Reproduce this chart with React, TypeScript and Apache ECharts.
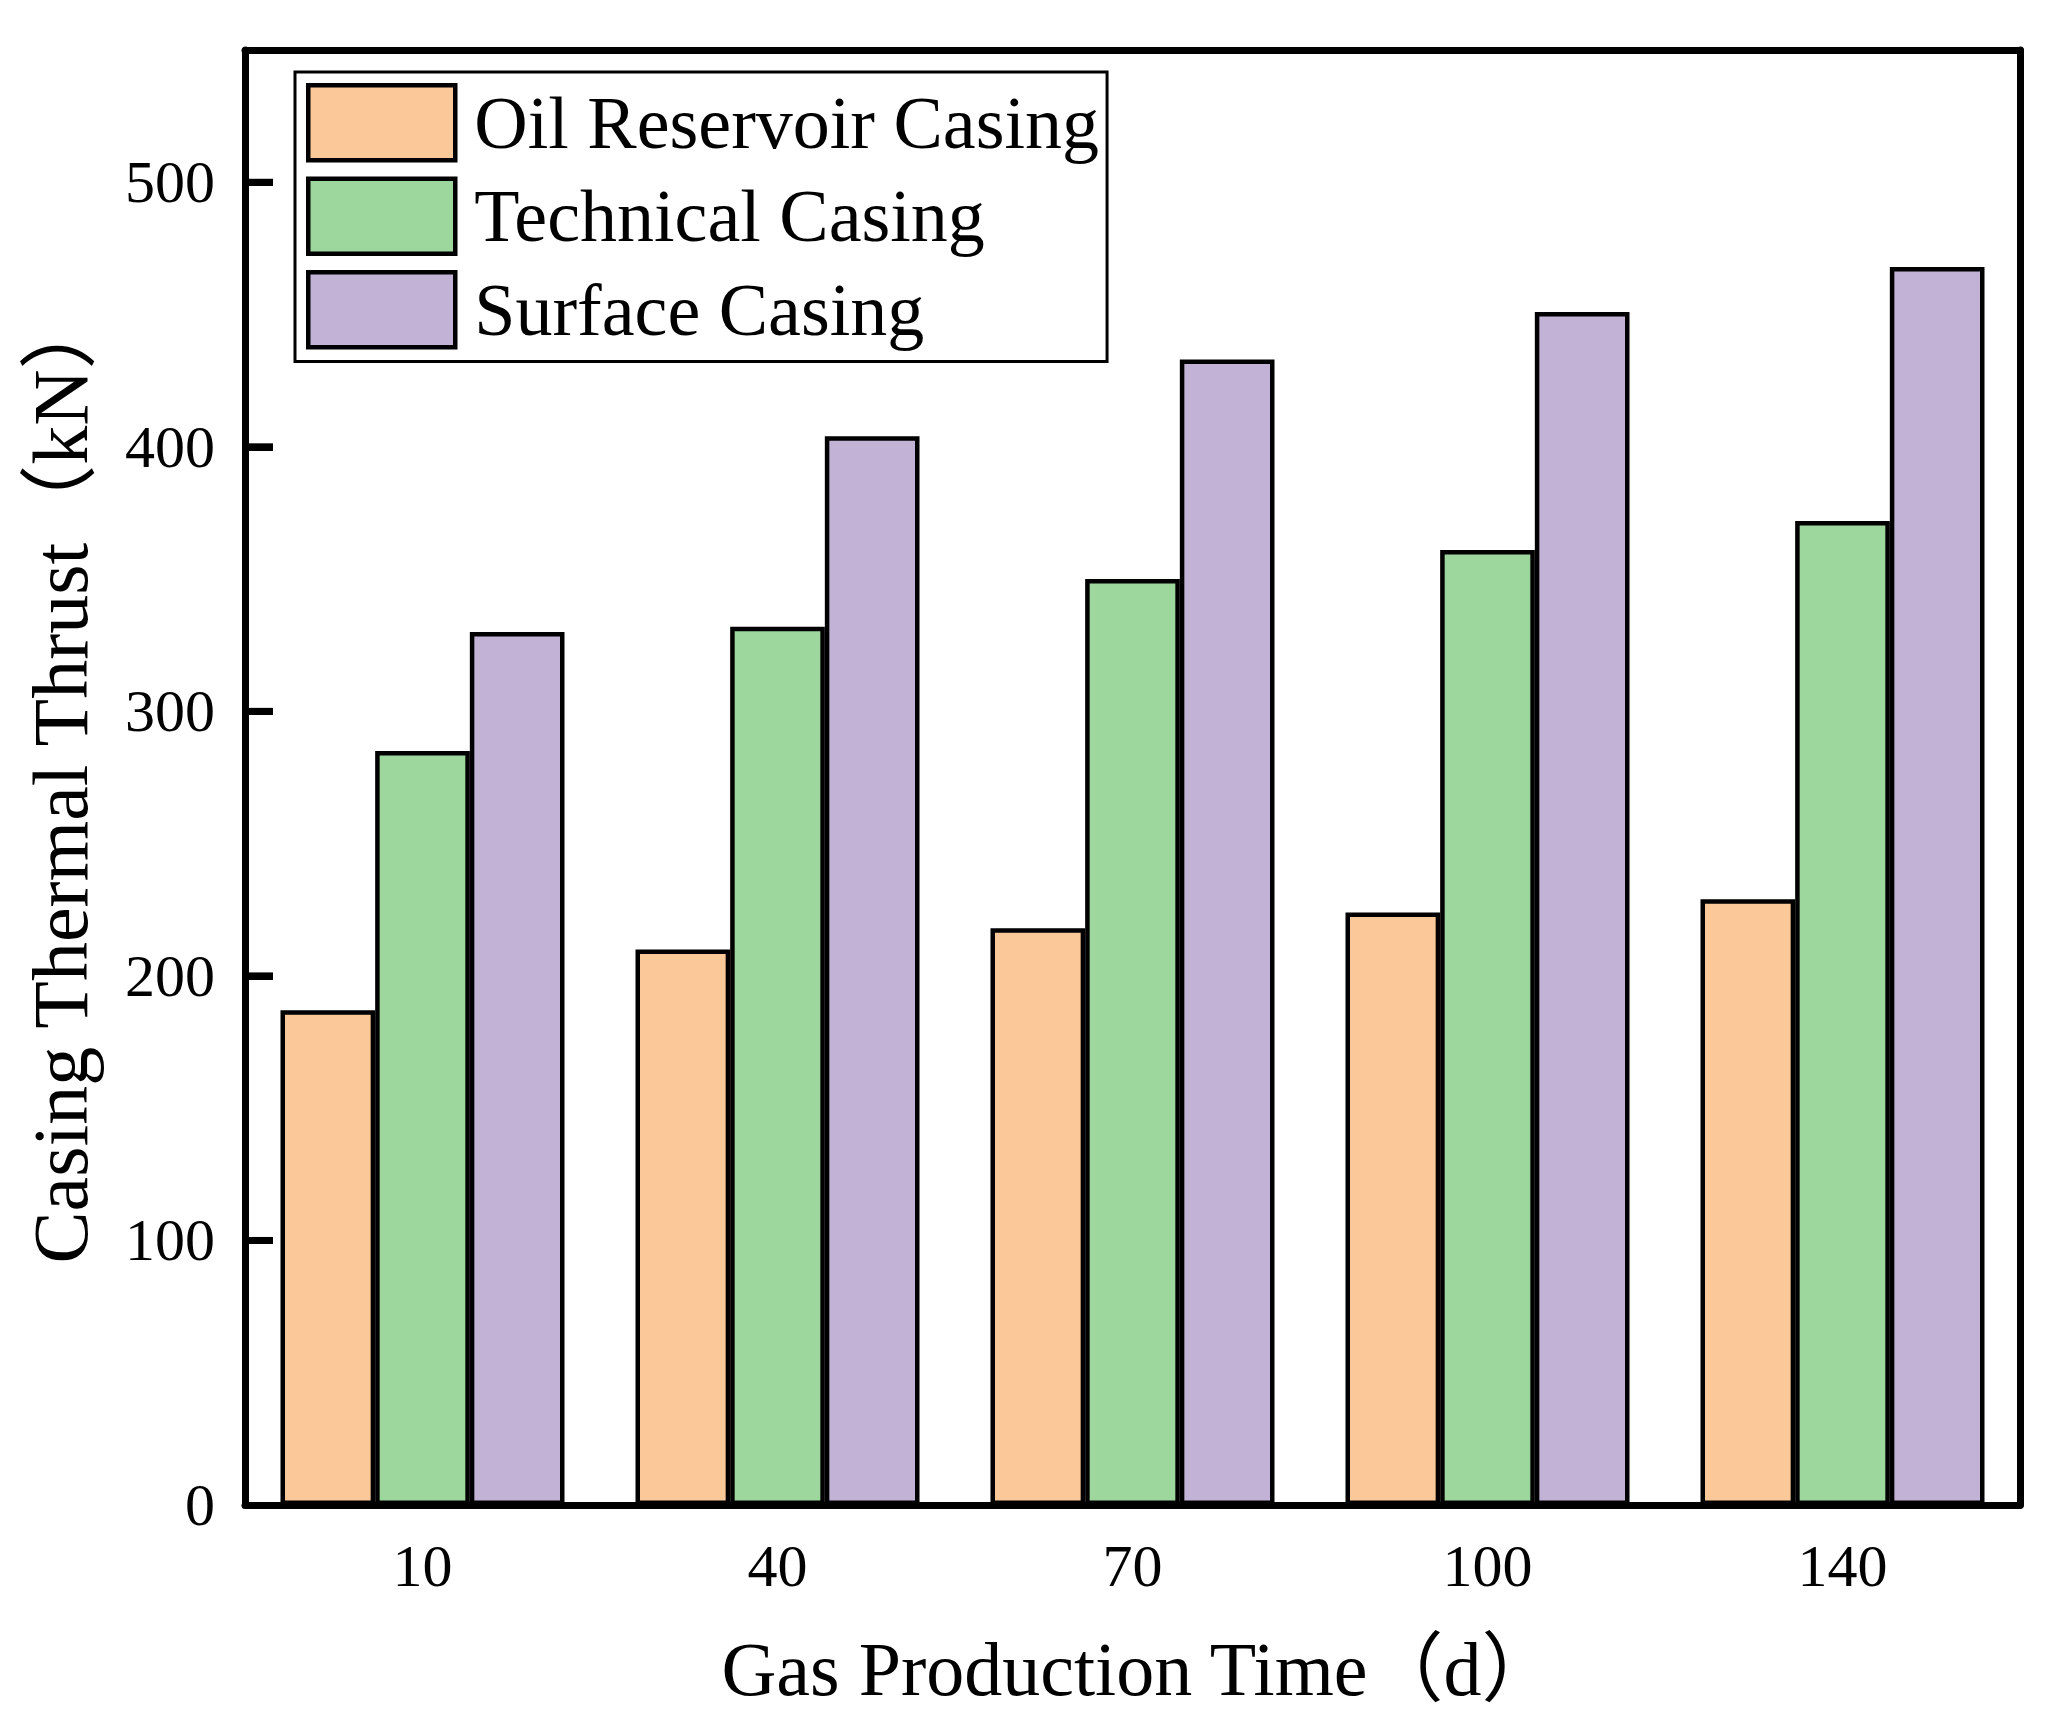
import * as echarts from "echarts";
import { useEffect, useRef } from "react";

const categories = ["10", "40", "70", "100", "140"];
const oilReservoirCasing = [187, 210, 218, 224, 229];
const technicalCasing = [285, 332, 350, 361, 372];
const surfaceCasing = [330, 404, 433, 451, 468];
const seriesNames = ["Oil Reservoir Casing", "Technical Casing", "Surface Casing"];
const seriesColors = ["#FBC999", "#9ED79D", "#C2B3D6"];
const yTickValues = [100, 200, 300, 400, 500];
const yMax = 550;
const yInterval = 100;

const FONT = "'Times New Roman', 'Liberation Serif', 'Noto Sans CJK SC', serif";
const frame = () => ({ show: true, onZero: false, lineStyle: { color: "#000", width: 7 } });

const App = () => {
  const chartRef = useRef<HTMLDivElement>(null);

  useEffect(() => {
    const chart = echarts.init(chartRef.current as HTMLDivElement, null, {
      renderer: "svg",
    });

    const values = [oilReservoirCasing, technicalCasing, surfaceCasing];

    const option = {
      animation: false,
      backgroundColor: "#ffffff",
      grid: { left: 245, right: 35, top: 50, bottom: 215, show: false },
      legend: {
        orient: "vertical",
        left: 295,
        top: 72,
        itemWidth: 147,
        itemHeight: 75,
        itemGap: 14,
        padding: [11, 8, 12, 11],
        borderColor: "#000",
        borderWidth: 3,
        icon: "rect",
        itemStyle: { borderColor: "#000", borderWidth: 4.5 },
        textStyle: {
          fontFamily: FONT,
          fontSize: 74,
          color: "#000",
          padding: [0, 0, 0, 14],
        },
        data: seriesNames,
      },
      xAxis: [
        {
          type: "category",
          data: categories,
          boundaryGap: true,
          axisLine: frame(),
          axisTick: { show: false },
          axisLabel: {
            fontFamily: FONT,
            fontSize: 60,
            color: "#000",
            margin: 31,
          },
          name: "Gas Production Time（d）",
          nameLocation: "middle",
          nameGap: 126,
          nameTextStyle: {
            fontFamily: FONT,
            fontSize: 76,
            color: "#000",
            padding: [0, 0, 0, 14],
          },
        },
        {
          type: "category",
          data: categories,
          position: "top",
          axisLine: frame(),
          axisTick: { show: false },
          axisLabel: { show: false },
        },
      ],
      yAxis: [
        {
          type: "value",
          min: 0,
          max: yMax,
          interval: yInterval,
          axisLine: frame(),
          axisTick: {
            show: true,
            inside: true,
            length: 28,
            lineStyle: { color: "#000", width: 7 },
          },
          splitLine: { show: false },
          axisLabel: {
            fontFamily: FONT,
            fontSize: 60,
            color: "#000",
            margin: 30,
            showMaxLabel: false,
          },
          name: "Casing Thermal Thrust（kN）",
          nameLocation: "middle",
          nameGap: 146,
          nameTextStyle: { fontFamily: FONT, fontSize: 78, color: "#000" },
        },
        {
          type: "value",
          min: 0,
          max: yMax,
          interval: yInterval,
          position: "right",
          axisLine: frame(),
          axisTick: { show: false },
          axisLabel: { show: false },
          splitLine: { show: false },
        },
      ],
      series: [
        ...seriesNames.map((name, i) => ({
          name,
          type: "bar",
          xAxisIndex: 0,
          yAxisIndex: 0,
          data: values[i],
          barGap: "0%",
          barCategoryGap: "20%",
          itemStyle: {
            color: seriesColors[i],
            borderColor: "#000",
            borderWidth: 4.5,
          },
        })),
        {
          // inward y ticks, placed through the y axis scale
          type: "custom",
          name: "yTicks",
          xAxisIndex: 0,
          yAxisIndex: 0,
          silent: true,
          z: 5,
          data: yTickValues.map((v) => [0, v]),
          encode: { x: 0, y: 1 },
          renderItem: (params: any, api: any) => {
            const y = api.coord([0, api.value(1)])[1];
            const x0 = params.coordSys.x;
            return {
              type: "rect",
              shape: { x: x0, y: y - 3.5, width: 28, height: 7 },
              style: { fill: "#000" },
            };
          },
        },
      ],
    };

    chart.setOption(option);

    return () => {
      chart.dispose();
    };
  }, []);

  return (
    <div
      ref={chartRef}
      style={{ position: "absolute", left: 0, top: 0, width: "2055px", height: "1720px" }}
    />
  );
};

export default App;
